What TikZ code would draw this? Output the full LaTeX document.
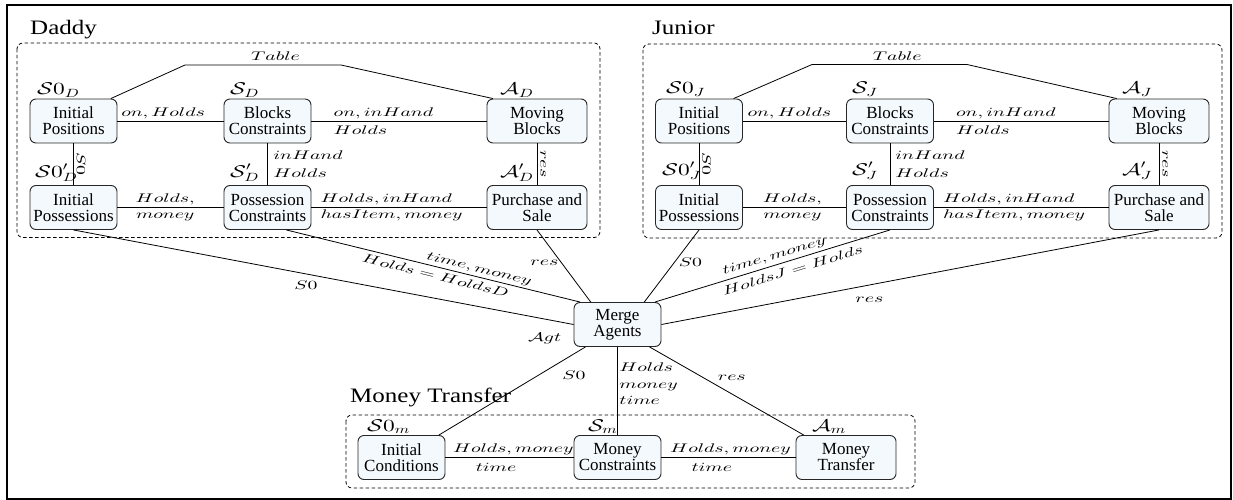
\documentclass[tikz,border=0pt]{standalone}
\usepackage[no-math]{fontspec}
\setmainfont{Liberation Serif}
\DeclareFontShape{OML}{cmm}{m}{it}{<-> cmmi10}{}
\DeclareFontShape{OMS}{cmsy}{m}{n}{<-> cmsy10}{}
\DeclareFontShape{OT1}{cmr}{m}{n}{<-> cmr10}{}
\definecolor{boxfill}{RGB}{244,249,253}
\newcommand{\nfont}{\fontsize{17}{16}\selectfont}
\newcommand{\lfont}{\fontsize{12.5}{17.5}\selectfont}
\newcommand{\lfontb}{\fontsize{12.5}{16.5}\selectfont}
\newcommand{\sfont}{\fontsize{17}{20}\selectfont}
\newcommand{\tfont}{\fontsize{20.5}{24}\selectfont}
% horizontally widened math labels, state labels and titles
\newcommand{\ml}[1]{\scalebox{1.58}[1]{$#1$}}
\newcommand{\stl}[1]{\scalebox{1.38}[1]{$#1$}}
\newcommand{\tit}[1]{\scalebox{1.22}[1]{#1}}
\tikzset{
  blk/.style={draw=black!85, fill=boxfill, rounded corners=6pt, line width=0.9pt,
    minimum width=87pt, minimum height=44pt, inner sep=0pt, align=center, font=\nfont},
  wide/.style={blk, minimum width=100pt},
  grp/.style={draw, dash pattern=on 3.5pt off 2.5pt, rounded corners=6pt, line width=0.8pt},
  conn/.style={draw, line width=0.8pt},
  lbl/.style={inner sep=0pt, font=\lfont},
  rlbl/.style={lbl, rotate=-90, anchor=south, inner sep=3pt},
  slbl/.style={inner sep=0pt, font=\sfont, anchor=base west},
  ttl/.style={inner sep=0pt, font=\tfont, anchor=base west}
}
\begin{document}
\begin{tikzpicture}[x=1pt,y=-1pt]
\useasboundingbox (0,0) rectangle (1233,500);
\draw[line width=2pt] (7,5.5) rectangle (1231,498.5);
% groups
\draw[grp] (17,43) rectangle (600,237.5);
\draw[grp] (643,44) rectangle (1222,238);
\draw[grp] (346,415) rectangle (915,488);
\node[ttl] (tD) at (30,35) {\tit{Daddy}};
\node[ttl] (tJ) at (652,35) {\tit{Junior}};
\node[ttl] (tM) at (350,402) {\tit{Money Transfer}};

% Daddy nodes
\node[blk]  (dIP) at (73.5,121)   {Initial\\Positions};
\node[blk]  (dBC) at (267.5,121)  {Blocks\\Constraints};
\node[wide] (dMB) at (537,121)    {Moving\\Blocks};
\node[blk]  (dIS) at (73.5,207.5) {Initial\\Possessions};
\node[blk]  (dPC) at (267.5,207.5){Possession\\Constraints};
\node[wide] (dPS) at (537,207.5)  {Purchase and\\Sale};
\node[slbl] (dl1) at (37,95)  {\stl{\mathcal{S}0_D}};
\node[slbl] (dl2) at (230,95) {\stl{\mathcal{S}_D}};
\node[slbl] (dl3) at (500,95) {\stl{\mathcal{A}_D}};
\node[slbl] (dl4) at (35,177) {\stl{\mathcal{S}0'_D}};
\node[slbl] (dl5) at (230,177){\stl{\mathcal{S}'_D}};
\node[slbl] (dl6) at (500,177){\stl{\mathcal{A}'_D}};

% Junior nodes
\node[blk]  (jIP) at (699,121)    {Initial\\Positions};
\node[blk]  (jBC) at (890,121)    {Blocks\\Constraints};
\node[wide] (jMB) at (1159,121)   {Moving\\Blocks};
\node[blk]  (jIS) at (699,207.5)  {Initial\\Possessions};
\node[blk]  (jPC) at (890,207.5)  {Possession\\Constraints};
\node[wide] (jPS) at (1159,207.5) {Purchase and\\Sale};
\node[slbl] (jl1) at (666,94)   {\stl{\mathcal{S}0_J}};
\node[slbl] (jl2) at (852,94)   {\stl{\mathcal{S}_J}};
\node[slbl] (jl3) at (1122,94)  {\stl{\mathcal{A}_J}};
\node[slbl] (jl4) at (662,175)  {\stl{\mathcal{S}0'_J}};
\node[slbl] (jl5) at (852,175)  {\stl{\mathcal{S}'_J}};
\node[slbl] (jl6) at (1122,175) {\stl{\mathcal{A}'_J}};

% Merge and money
\node[blk]  (mg)  at (617.5,324.5) {Merge\\Agents};
\node[blk]  (mIC) at (401.5,457.5) {Initial\\Conditions};
\node[blk]  (mMC) at (617.5,457.5) {Money\\Constraints};
\node[wide] (mMT) at (846,457.5)   {Money\\Transfer};
\node[lbl, anchor=base west] (agt) at (528,341) {\ml{\mathcal{A}gt}};
\node[slbl] (ml1) at (367,431) {\stl{\mathcal{S}0_m}};
\node[slbl] (ml2) at (588,431) {\stl{\mathcal{S}_m}};
\node[slbl] (ml3) at (812,431) {\stl{\mathcal{A}_m}};

% bend coordinates
\coordinate (dT1) at (185,65);
\coordinate (dT2) at (341,65);
\coordinate (jT1) at (812,64.5);
\coordinate (jT2) at (967,64.5);

% Daddy connectors
\draw[conn] (dIP.31) -- (dT1) -- node[lbl, above=4pt, pos=0.58]{\ml{Table}} (dT2) -- (dMB.153);
\draw[conn] (dIP) -- node[lbl, above=2pt, pos=0.43]{\ml{on, Holds}} (dBC);
\draw[conn] (dBC) -- node[lbl, anchor=west, align=left, pos=0.125]{\ml{on, inHand}\\\ml{Holds}} (dMB);
\draw[conn] (dIS) -- node[lbl, font=\lfontb, align=center, pos=0.45]{\ml{Holds,}\\\ml{money}} (dPC);
\draw[conn] (dPC) -- node[lbl, font=\lfontb, anchor=west, align=left, pos=0.05]{\ml{Holds, inHand}\\\ml{hasItem, money}} (dPS);
\draw[conn] (dIP) -- node[rlbl]{\ml{S0}} (dIS);
\draw[conn] (dBC) -- node[lbl, anchor=west, align=left, xshift=5.5pt]{\ml{inHand}\\\ml{Holds}} (dPC);
\draw[conn] (dMB) -- node[rlbl]{\ml{res}} (dPS);

% Junior connectors
\draw[conn] (jIP.33) -- (jT1) -- node[lbl, above=4pt, pos=0.55]{\ml{Table}} (jT2) -- (jMB.152);
\draw[conn] (jIP) -- node[lbl, above=2pt, pos=0.45]{\ml{on, Holds}} (jBC);
\draw[conn] (jBC) -- node[lbl, anchor=west, align=left, pos=0.125]{\ml{on, inHand}\\\ml{Holds}} (jMB);
\draw[conn] (jIS) -- node[lbl, font=\lfontb, align=center, pos=0.48]{\ml{Holds,}\\\ml{money}} (jPC);
\draw[conn] (jPC) -- node[lbl, font=\lfontb, anchor=west, align=left, pos=0.05]{\ml{Holds, inHand}\\\ml{hasItem, money}} (jPS);
\draw[conn] (jIP) -- node[rlbl]{\ml{S0}} (jIS);
\draw[conn] (jBC) -- node[lbl, anchor=west, align=left, xshift=5pt]{\ml{inHand}\\\ml{Holds}} (jPC);
\draw[conn] (jMB) -- node[rlbl]{\ml{res}} (jPS);

% to Merge Agents
\draw[conn] (dIS.south) -- node[lbl, below=7pt, pos=0.465]{\ml{S0}} (mg.west);
\draw[conn] (dPC.310) -- node[lbl, sloped, above=2pt, pos=0.65]{\ml{time, money}}
                         node[lbl, sloped, below=4pt, pos=0.515]{\ml{Holds = HoldsD}} (mg.149);
\draw[conn] (dPS.south) -- node[lbl, left=3pt, pos=0.46]{\ml{res}} (mg.140);
\draw[conn] (jIS.south) -- node[lbl, right=4pt, pos=0.45]{\ml{S0}} (mg.40);
\draw[conn] (mg.31) -- node[lbl, sloped, above=3pt, pos=0.519]{\ml{time, money}}
                       node[lbl, sloped, below=5pt, pos=0.574]{\ml{HoldsJ = Holds}} (jPC.south);
\draw[conn] (mg.east) -- node[lbl, below=11.5pt, pos=0.418]{\ml{res}} (jPS.south);

% Merge to Money Transfer
\draw[conn] (mg.215) -- node[lbl, anchor=north west, pos=0.16, yshift=-9.5pt]{\ml{S0}} (mIC.31);
\draw[conn] (mg) -- node[lbl, font=\lfontb, anchor=west, align=left, pos=0.42, xshift=1.5pt]{\ml{Holds}\\\ml{money}\\\ml{time}} (mMC);
\draw[conn] (mg.325) -- node[lbl, anchor=south west, pos=0.44, yshift=5pt]{\ml{res}} (mMT.152);
\draw[conn] (mIC) -- node[lbl, above=2pt, pos=0.53]{\ml{Holds, money}} node[lbl, below=5pt, pos=0.395]{\ml{time}} (mMC);
\draw[conn] (mMC) -- node[lbl, above=2pt, pos=0.515]{\ml{Holds, money}} node[lbl, below=5pt, pos=0.375]{\ml{time}} (mMT);
\end{tikzpicture}
\end{document}
